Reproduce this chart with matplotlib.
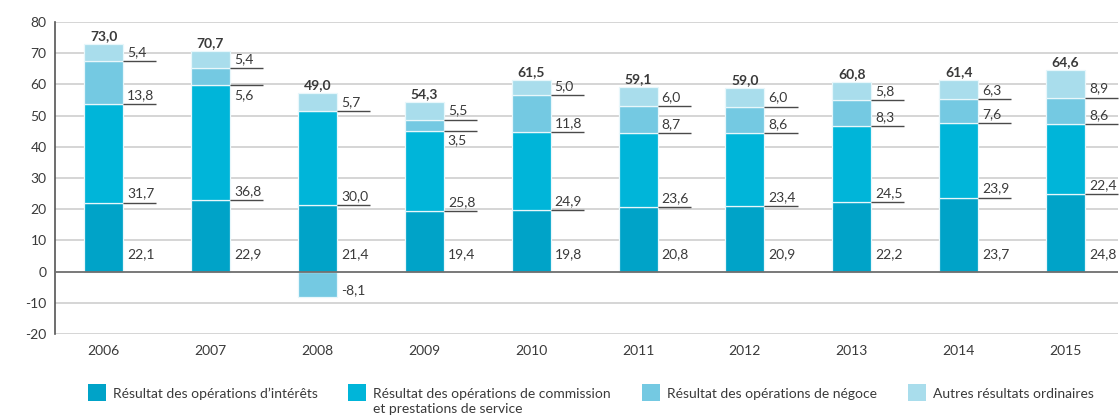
import matplotlib
matplotlib.use("Agg")
import matplotlib.pyplot as plt
from matplotlib.patches import Rectangle
import numpy as np

years = ["2006", "2007", "2008", "2009", "2010", "2011", "2012", "2013", "2014", "2015"]
interets = [22.1, 22.9, 21.4, 19.4, 19.8, 20.8, 20.9, 22.2, 23.7, 24.8]
commission = [31.7, 36.8, 30.0, 25.8, 24.9, 23.6, 23.4, 24.5, 23.9, 22.4]
negoce = [13.8, 5.6, -8.1, 3.5, 11.8, 8.7, 8.6, 8.3, 7.6, 8.6]
autres = [5.4, 5.4, 5.7, 5.5, 5.0, 6.0, 6.0, 5.8, 6.3, 8.9]
totals = [73.0, 70.7, 49.0, 54.3, 61.5, 59.1, 59.0, 60.8, 61.4, 64.6]
series_names = ["Résultat des opérations d’intérêts",
                "Résultat des opérations de commission\net prestations de service",
                "Résultat des opérations de négoce",
                "Autres résultats ordinaires"]
colors = ["#00A3C8", "#00B5D9", "#74C9E2", "#A9DDEC"]

FONT = "Lato"
TXT = "#3A3A3A"
FS = 10
plt.rcParams['font.family'] = [FONT, 'DejaVu Sans']

def fmt(v):
    return f"{v:.1f}".replace(".", ",")

W, H = 1120, 419
fig = plt.figure(figsize=(W / 100, H / 100), dpi=100)
ax = fig.add_axes([55 / W, 1 - 334 / H, (1118 - 55) / W, (334 - 22) / H])

x = np.arange(len(years))
bw = 0.365
ax.set_xlim(-0.455, 9.49)
ax.set_ylim(-20, 80)

# grid
for v in range(-20, 90, 10):
    if v == 0:
        continue
    ax.axhline(v, color="#D2D2D2", lw=1.3, zorder=0)

# stacks
pos_bottom = np.zeros(len(years))
neg_bottom = np.zeros(len(years))
stack_bottoms = []
for vals, c in zip([interets, commission, negoce, autres], colors):
    vals = np.array(vals)
    bottoms = np.where(vals >= 0, pos_bottom, neg_bottom)
    ax.bar(x, vals, bw, bottom=bottoms, color=c, edgecolor="#E8F7FB", linewidth=0.9, zorder=2)
    stack_bottoms.append(bottoms.copy())
    pos_bottom = pos_bottom + np.where(vals >= 0, vals, 0)
    neg_bottom = neg_bottom + np.where(vals < 0, vals, 0)

ax.axhline(0, color="#6E6E6E", lw=1.3, zorder=3)

line_len = 0.31
for si, vals in enumerate([interets, commission, negoce, autres]):
    for i, v in enumerate(vals):
        b = stack_bottoms[si][i]
        xr = x[i] + bw / 2
        if v < 0:
            ax.annotate(fmt(v), (xr, b + v), xytext=(4, 3), textcoords="offset pixels",
                        ha="left", va="baseline", fontsize=FS, color=TXT, zorder=4)
            continue
        if si == 0:
            ax.annotate(fmt(v), (xr, 0), xytext=(4, 13), textcoords="offset pixels",
                        ha="left", va="baseline", fontsize=FS, color=TXT, zorder=4)
            continue
        ax.plot([xr, xr + line_len], [b, b], color="#4A4A4A", lw=1.0, zorder=4,
                solid_capstyle="butt", clip_on=False)
        dy = -14 if (si == 2 and v < 6) else 5
        ax.annotate(fmt(v), (xr, b), xytext=(4, dy), textcoords="offset pixels",
                    ha="left", va="baseline", fontsize=FS, color=TXT, zorder=4)

for i, t in enumerate(totals):
    top = pos_bottom[i]
    ax.annotate(fmt(t), (x[i], top), xytext=(0, 4), textcoords="offset pixels",
                ha="center", va="baseline", fontsize=FS, fontweight="bold", color=TXT, zorder=4)

for s in ["top", "right", "bottom"]:
    ax.spines[s].set_visible(False)
ax.spines["left"].set_color("#555555")
ax.spines["left"].set_linewidth(1.2)
ax.set_yticks(range(-20, 90, 10))
ax.set_yticklabels([str(v) for v in range(-20, 90, 10)])
ax.set_xticks(x)
ax.set_xticklabels(years)
ax.tick_params(axis="y", length=0, pad=6, labelsize=FS, labelcolor=TXT)
ax.tick_params(axis="x", length=0, pad=8, labelsize=FS, labelcolor=TXT)

# legend
sq_x = [88, 348, 642, 908]
tx_x = [113, 373, 667, 933]
for sx, tx, c, name in zip(sq_x, tx_x, colors, series_names):
    fig.add_artist(Rectangle((sx / W, 1 - 401 / H), 18 / W, 17 / H, transform=fig.transFigure,
                             facecolor=c, edgecolor="none"))
    fig.text(tx / W, 1 - 388 / H, name, ha="left", va="top", fontsize=FS, color=TXT,
             linespacing=1.3)

fig.savefig("out.png", dpi=100)
